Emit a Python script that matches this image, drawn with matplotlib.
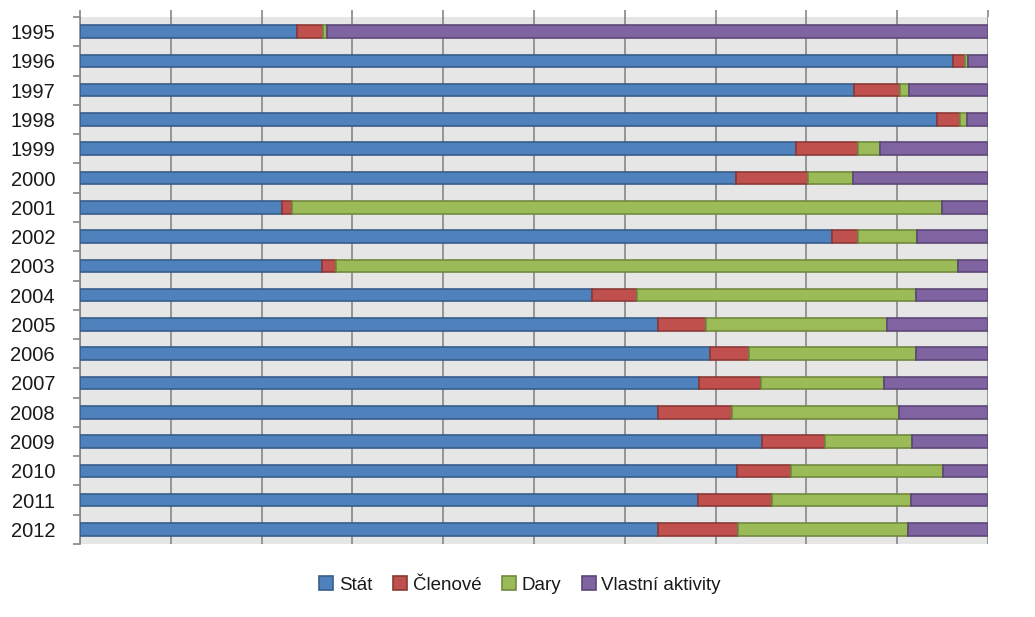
import numpy as np
import matplotlib.pyplot as plt

years = ['1995', '1996', '1997', '1998', '1999', '2000', '2001', '2002', '2003',
         '2004', '2005', '2006', '2007', '2008', '2009', '2010', '2011', '2012']

# shares in percent
stat = [23.9, 96.2, 85.2, 94.4, 78.9, 72.2, 22.3, 82.8, 26.6,
        56.4, 63.7, 69.4, 68.2, 63.7, 75.1, 72.4, 68.1, 63.7]
clenove = [2.9, 1.3, 5.1, 2.5, 6.8, 8.0, 1.0, 2.9, 1.6,
           4.9, 5.2, 4.3, 6.8, 8.1, 6.9, 5.9, 8.1, 8.8]
dary = [0.4, 0.3, 1.0, 0.8, 2.4, 4.9, 71.6, 6.5, 68.5,
        30.8, 20.0, 18.4, 13.5, 18.4, 9.6, 16.7, 15.3, 18.7]
vlastni = [72.8, 2.2, 8.7, 2.3, 11.9, 14.9, 5.1, 7.8, 3.3,
           7.9, 11.1, 7.9, 11.5, 9.8, 8.4, 5.0, 8.5, 8.8]

series = [('Stát', stat, '#4F81BD', '#385D8A'),
          ('Členové', clenove, '#C0504D', '#8C3836'),
          ('Dary', dary, '#9BBB59', '#71893F'),
          ('Vlastní aktivity', vlastni, '#8064A2', '#5C4776')]

fig = plt.figure(figsize=(10.35, 6.17), dpi=100)
ax = fig.add_axes([80/1035, 1-544/617, 908/1035, 527/617])
ax.set_facecolor('#E6E6E6')

y = np.arange(len(years))
total = np.array(stat) + np.array(clenove) + np.array(dary) + np.array(vlastni)
left = np.zeros(len(years))
for name, vals, col, edge in series:
    w = np.array(vals) / total
    ax.barh(y, w, left=left, height=0.43, color=col, edgecolor=edge,
            linewidth=1.2, label=name, zorder=3)
    left += w

ax.set_xlim(0, 1)
ax.set_ylim(len(years) - 0.5, -0.5)
ax.set_xticks(np.arange(0, 1.01, 0.1))
ax.grid(axis='x', color='#868686', linewidth=1.2, zorder=1)
ax.xaxis.tick_top()
ax.tick_params(axis='x', length=5, width=1.2, color='#868686', labeltop=False)

ax.set_yticks(y)
ax.set_yticklabels(years, fontsize=14.5, family='Liberation Sans', color='#1a1a1a')
ax.set_yticks(np.arange(-0.5, len(years), 1), minor=True)
ax.tick_params(axis='y', which='major', length=0, pad=18)
ax.tick_params(axis='y', which='minor', length=5, width=1.2, color='#868686')

for s in ['top', 'right', 'bottom']:
    ax.spines[s].set_visible(False)
ax.spines['left'].set_color('#868686')
ax.spines['left'].set_linewidth(1.2)

fig.legend(loc='center', bbox_to_anchor=(520/1035, 1-585/617), ncol=4,
           frameon=False, prop={'family': 'Liberation Sans', 'size': 13.5},
           handlelength=0.75, handleheight=0.75, handletextpad=0.3, columnspacing=1.1,
           labelcolor='#1a1a1a')

fig.savefig('out.png', dpi=100)
